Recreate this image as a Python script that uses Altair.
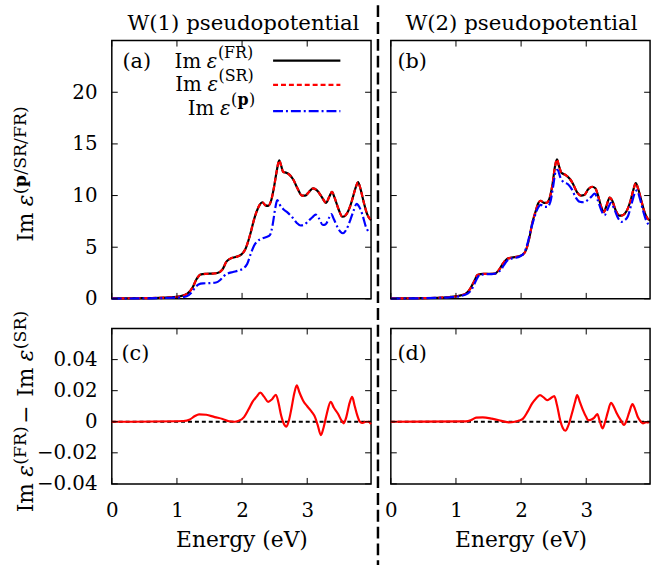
import altair as alt
import pandas as pd

# ---------------- data ----------------
# Panel (a): W(1) pseudopotential
E_A = [0.0, 0.5, 0.9, 1.05, 1.16, 1.24, 1.30, 1.36, 1.45, 1.55, 1.62, 1.70, 1.76, 1.82, 1.90,
       1.98, 2.05, 2.10, 2.14, 2.18, 2.22, 2.27, 2.31, 2.36, 2.40, 2.45, 2.49, 2.53, 2.57, 2.60,
       2.63, 2.68, 2.73, 2.79, 2.85, 2.92, 2.97, 3.02, 3.09, 3.15, 3.22, 3.29, 3.34, 3.38, 3.42,
       3.48, 3.54, 3.59, 3.65, 3.70, 3.75, 3.78, 3.82, 3.87, 3.92, 3.98]
IM_A_FR = [0.05, 0.07, 0.15, 0.25, 0.5, 1.1, 1.9, 2.35, 2.42, 2.45, 2.5, 2.85, 3.6, 3.9, 4.05,
           4.25, 4.8, 5.7, 6.6, 7.6, 8.4, 9.1, 9.35, 9.05, 9.0, 9.6, 10.8, 12.3, 13.4, 12.9,
           12.3, 12.2, 12.0, 11.5, 10.7, 10.0, 10.0, 10.3, 10.7, 10.5, 9.9, 9.3, 9.9, 10.35, 9.8,
           8.7, 7.95, 8.1, 8.8, 9.8, 10.9, 11.3, 10.6, 9.3, 8.2, 7.6]
IM_A_SR = [0.05, 0.07, 0.15, 0.25, 0.5, 1.1, 1.9, 2.35, 2.42, 2.45, 2.5, 2.85, 3.6, 3.9, 4.05,
           4.25, 4.8, 5.7, 6.6, 7.6, 8.4, 9.1, 9.35, 9.05, 9.0, 9.6, 10.8, 12.3, 13.4, 12.9,
           12.3, 12.2, 12.0, 11.5, 10.7, 10.0, 10.0, 10.3, 10.7, 10.5, 9.9, 9.3, 9.9, 10.35, 9.8,
           8.7, 7.95, 8.1, 8.8, 9.8, 10.9, 11.3, 10.6, 9.3, 8.2, 7.6]
E_A_P = [0.0, 0.5, 1.0, 1.15, 1.22, 1.28, 1.33, 1.40, 1.50, 1.60, 1.66, 1.72, 1.78, 1.86, 1.95,
         2.02, 2.08, 2.13, 2.18, 2.24, 2.31, 2.38, 2.43, 2.47, 2.51, 2.54, 2.58, 2.63, 2.70, 2.77,
         2.84, 2.90, 2.96, 3.02, 3.08, 3.13, 3.18, 3.24, 3.28, 3.34, 3.37, 3.41, 3.46, 3.51, 3.55,
         3.60, 3.66, 3.71, 3.76, 3.80, 3.85, 3.90, 3.94]
IM_A_P = [0.03, 0.05, 0.12, 0.25, 0.6, 1.1, 1.4, 1.5, 1.52, 1.58, 1.8, 2.2, 2.45, 2.6, 2.75,
          2.95, 3.4, 4.3, 5.1, 5.6, 5.85, 6.0, 6.2, 7.2, 8.8, 9.55, 9.1, 8.7, 8.35, 7.9,
          7.35, 7.1, 7.2, 7.55, 7.9, 8.15, 7.8, 7.15, 7.2, 7.9, 8.2, 7.7, 7.0, 6.5, 6.35,
          6.7, 7.6, 8.5, 9.2, 8.9, 8.1, 7.0, 6.5]

# Panel (b): W(2) pseudopotential
E_B = [0.0, 0.5, 0.9, 1.05, 1.15, 1.22, 1.28, 1.33, 1.42, 1.52, 1.60, 1.66, 1.72, 1.78, 1.86,
       1.95, 2.02, 2.08, 2.13, 2.17, 2.22, 2.26, 2.30, 2.35, 2.39, 2.44, 2.48, 2.52, 2.55, 2.58,
       2.62, 2.68, 2.75, 2.80, 2.86, 2.92, 2.97, 3.03, 3.09, 3.14, 3.19, 3.23, 3.27, 3.31, 3.36,
       3.40, 3.45, 3.51, 3.56, 3.62, 3.68, 3.73, 3.76, 3.80, 3.85, 3.90, 3.94, 3.98]
IM_B_FR = [0.05, 0.07, 0.18, 0.3, 0.5, 1.0, 1.7, 2.3, 2.42, 2.42, 2.45, 2.8, 3.4, 3.85, 4.0,
           4.1, 4.25, 4.8, 6.0, 7.3, 8.4, 9.2, 9.5, 9.3, 9.3, 9.8, 11.0, 12.8, 13.5, 12.9,
           12.2, 12.0, 11.6, 11.1, 10.3, 10.0, 10.05, 10.6, 10.85, 10.7, 9.8, 8.9, 8.4, 9.0, 9.8,
           9.5, 8.6, 8.05, 8.1, 8.5, 9.5, 10.7, 11.2, 10.6, 9.4, 8.3, 7.8, 7.6]
IM_B_SR = [0.05, 0.07, 0.18, 0.3, 0.5, 1.0, 1.7, 2.3, 2.42, 2.42, 2.45, 2.8, 3.4, 3.85, 4.0,
           4.1, 4.25, 4.8, 6.0, 7.3, 8.4, 9.2, 9.5, 9.3, 9.3, 9.8, 11.0, 12.8, 13.5, 12.9,
           12.2, 12.0, 11.6, 11.1, 10.3, 10.0, 10.05, 10.6, 10.85, 10.7, 9.8, 8.9, 8.4, 9.0, 9.8,
           9.5, 8.6, 8.05, 8.1, 8.5, 9.5, 10.7, 11.2, 10.6, 9.4, 8.3, 7.8, 7.6]
E_B_P = [0.0, 0.5, 0.9, 1.05, 1.18, 1.25, 1.31, 1.36, 1.45, 1.55, 1.63, 1.70, 1.76, 1.82, 1.90,
         1.98, 2.05, 2.10, 2.15, 2.20, 2.25, 2.30, 2.36, 2.40, 2.45, 2.49, 2.53, 2.56, 2.60, 2.65,
         2.72, 2.78, 2.84, 2.90, 2.96, 3.02, 3.08, 3.13, 3.18, 3.23, 3.28, 3.33, 3.38, 3.43, 3.49,
         3.54, 3.59, 3.64, 3.70, 3.75, 3.78, 3.82, 3.87, 3.92, 3.98]
IM_B_P = [0.03, 0.06, 0.15, 0.25, 0.5, 1.0, 1.8, 2.3, 2.38, 2.4, 2.5, 2.9, 3.5, 3.85, 3.95,
          4.1, 4.5, 5.4, 6.7, 7.8, 8.7, 9.1, 8.9, 8.9, 9.4, 10.8, 12.3, 12.5, 11.8, 11.3,
          11.1, 10.6, 9.8, 9.4, 9.35, 9.55, 9.9, 10.2, 9.5, 8.6, 8.1, 8.7, 9.3, 8.7, 7.8,
          7.45, 7.6, 8.0, 9.3, 10.3, 10.5, 9.8, 8.6, 7.6, 7.0]

# Panel (c): FR - SR difference, W(1)
E_C = [0.0, 1.10, 1.20, 1.27, 1.34, 1.45, 1.58, 1.70, 1.80, 1.88, 1.95, 2.03, 2.10, 2.16, 2.22,
       2.28, 2.34, 2.40, 2.46, 2.52, 2.56, 2.60, 2.65, 2.68, 2.72, 2.76, 2.80, 2.84, 2.88, 2.94,
       3.00, 3.07, 3.12, 3.16, 3.21, 3.25, 3.30, 3.36, 3.41, 3.47, 3.53, 3.56, 3.60, 3.65, 3.69,
       3.73, 3.77, 3.81, 3.85, 3.90, 3.94, 3.98]
DIFF_C = [0.0, 0.0005, 0.0015, 0.0035, 0.0048, 0.0045, 0.003, 0.0018, 0.0003, 0.0, 0.0006, 0.003,
          0.008, 0.0128, 0.016, 0.0187, 0.016, 0.0128, 0.0145, 0.0174, 0.012, 0.004, -0.002,
          -0.0032, 0.001, 0.009, 0.018, 0.0234, 0.019, 0.0134, 0.010, 0.0064, 0.003, -0.002,
          -0.0086, -0.004, 0.005, 0.0128, 0.009, 0.0053, 0.0005, -0.001, 0.003, 0.012, 0.0160,
          0.010, 0.004, 0.0, -0.0008, 0.0, 0.0, -0.0015]

# Panel (d): FR - SR difference, W(2)
E_D = [0.0, 1.15, 1.24, 1.31, 1.41, 1.55, 1.66, 1.75, 1.81, 1.90, 1.97, 2.03, 2.10, 2.17, 2.23,
       2.29, 2.35, 2.40, 2.45, 2.51, 2.55, 2.60, 2.64, 2.68, 2.72, 2.78, 2.83, 2.86, 2.90, 2.95,
       3.00, 3.03, 3.08, 3.12, 3.17, 3.21, 3.25, 3.29, 3.33, 3.38, 3.43, 3.47, 3.53, 3.58, 3.62,
       3.66, 3.71, 3.75, 3.79, 3.83, 3.87, 3.92, 3.96]
DIFF_D = [0.0, 0.0002, 0.0012, 0.0026, 0.0028, 0.002, 0.001, 0.0, -0.0004, 0.0, 0.0008, 0.002,
          0.0065, 0.0118, 0.015, 0.0171, 0.0155, 0.0139, 0.015, 0.0165, 0.011, 0.001, -0.004,
          -0.0058, -0.003, 0.0053, 0.013, 0.0171, 0.013, 0.0075, 0.003, 0.001, 0.0015, 0.0025,
          0.0049, 0.0, -0.0043, 0.0, 0.006, 0.0122, 0.009, 0.0053, 0.001, -0.0021, 0.001,
          0.006, 0.0113, 0.008, 0.0032, 0.0005, -0.001, -0.0003, -0.0006]

ZERO_E = [0.0, 3.98]
ZERO_V = [0.0, 0.0]

X_TICKS = [0, 1, 2, 3]
Y_TICKS_TOP = [0, 5, 10, 15, 20]
Y_TICKS_BOT = [-0.04, -0.02, 0, 0.02, 0.04]
X_DOMAIN = [0, 3.98]
Y_DOMAIN_TOP = [0, 25]
Y_DOMAIN_BOT = [-0.04, 0.06]
TITLES = ["W(1) pseudopotential", "W(2) pseudopotential"]
PANEL_LABELS = ["(a)", "(b)", "(c)", "(d)"]
X_TITLE = "Energy (eV)"

# ---------------- styling ----------------
FONT = "DejaVu Serif"
W = 262
H_TOP = 261
H_BOT = 157
TICK = 6
ANN = alt.Data(values=[{}])

CW = {'I': .47, 'm': .96, 'ε': .56, ' ': .318, '\u00a0': .318, '\u2009': .2, '(': .40,
      ')': .40, 'F': .76, 'R': .80, 'S': .72, '/': .34, 'p': .66, '−': .838}


def tw(s, size, bold=False):
    return sum(CW.get(c, .6) for c in s) * size * (1.1 if bold else 1.0)


def txt(s, x, y, size, dx=0, dy=0, angle=0, weight="normal", style="normal", align="left"):
    return alt.Chart(ANN).mark_text(
        text=s, font=FONT, fontSize=size, fontWeight=weight, fontStyle=style,
        align=align, baseline="alphabetic", angle=angle, dx=dx, dy=dy, color="black"
    ).encode(x=alt.value(x), y=alt.value(y))


def rich(pieces, x, y, start, angle=0):
    """pieces: (text, size, dy, weight, style); laid left-to-right from offset `start`."""
    out = []
    off = start
    for (s, size, dy, weight, style) in pieces:
        out.append(txt(s, x, y, size, dx=off, dy=dy, angle=angle, weight=weight, style=style))
        off += tw(s, size, weight == "bold")
    return out


def width_of(pieces):
    return sum(tw(s, size, weight == "bold") for (s, size, dy, weight, style) in pieces)


def im_eps(size):
    return [("Im\u2009", size, 0, "normal", "normal"), ("ε", size, 0, "normal", "italic")]


def sup(s, size, dy, bold=False):
    return [(s, size, dy, "bold" if bold else "normal", "normal")]


def make_panel(top, left, curves, label, label_pos, extra=()):
    h = H_TOP if top else H_BOT
    ys = alt.Scale(domain=Y_DOMAIN_TOP if top else Y_DOMAIN_BOT, nice=False, zero=False)
    xs = alt.Scale(domain=X_DOMAIN, nice=False, zero=False)
    if top:
        xaxis = None
    else:
        xaxis = alt.Axis(values=X_TICKS, format="d", title=X_TITLE, ticks=False, tickSize=0,
                         domain=False, grid=False, labelFont=FONT, labelFontSize=20,
                         labelColor="black", labelBaseline="alphabetic", labelPadding=33,
                         labelFlush=False, labelOverlap=False, titleFont=FONT,
                         titleFontSize=22, titleFontWeight="normal", titleColor="black",
                         titlePadding=9)
    if left:
        if top:
            yaxis = alt.Axis(values=Y_TICKS_TOP, title=None, ticks=False, tickSize=0,
                             domain=False, grid=False, labelFont=FONT, labelFontSize=20,
                             labelColor="black", labelPadding=15, labelFlush=False)
        else:
            yaxis = alt.Axis(values=Y_TICKS_BOT, title=None, ticks=False, tickSize=0,
                             domain=False, grid=False, labelFont=FONT, labelFontSize=20,
                             labelColor="black", labelPadding=15, labelFlush=False,
                             labelExpr="datum.value == 0 ? '0' : format(datum.value, '.2f')")
    else:
        yaxis = None
    X = lambda: alt.X("E:Q", scale=xs, axis=xaxis)
    Y = lambda: alt.Y("v:Q", scale=ys, axis=yaxis)

    layers = []
    for (E, V, color, dash, sw) in curves:
        kw = dict(color=color, strokeWidth=sw, interpolate="monotone")
        if dash:
            kw["strokeDash"] = dash
        layers.append(alt.Chart(pd.DataFrame({"E": E, "v": V})).mark_line(**kw)
                      .encode(x=X(), y=Y()))
    xt = pd.DataFrame({"E": X_TICKS})
    yt = pd.DataFrame({"v": Y_TICKS_TOP if top else Y_TICKS_BOT})
    layers.append(alt.Chart(xt).mark_rule(color="black", strokeWidth=1)
                  .encode(x=X(), y=alt.value(h), y2=alt.value(h - TICK)))
    layers.append(alt.Chart(xt).mark_rule(color="black", strokeWidth=1)
                  .encode(x=X(), y=alt.value(0), y2=alt.value(TICK)))
    layers.append(alt.Chart(yt).mark_rule(color="black", strokeWidth=1)
                  .encode(y=Y(), x=alt.value(0), x2=alt.value(TICK)))
    layers.append(alt.Chart(yt).mark_rule(color="black", strokeWidth=1)
                  .encode(y=Y(), x=alt.value(W), x2=alt.value(W - TICK)))
    layers.append(txt(label, label_pos[0], label_pos[1], 21))
    layers.extend(extra)
    return layers


# ---------------- annotations ----------------
# legend in panel (a)
LEG_XR = 145
leg_rows = [
    (im_eps(20) + sup("(FR)", 16, -10), 27.7, 20.3, "black", None),
    (im_eps(20) + sup("(SR)", 16, -10), 51.0, 44.7, "red", [5, 3]),
    (im_eps(20) + sup("(", 16, -10) + sup("p", 16, -10, True) + sup(")", 16, -10), 75.0, 71.3,
     "blue", [10, 3, 2, 3]),
]
legend_layers = []
for pcs, base, ly, col, dash in leg_rows:
    legend_layers += rich(pcs, 0, base, LEG_XR - width_of(pcs))
    kw = dict(color=col, strokeWidth=2.2)
    if dash:
        kw["strokeDash"] = dash
    legend_layers.append(alt.Chart(ANN).mark_rule(**kw).encode(
        x=alt.value(163), x2=alt.value(231), y=alt.value(ly)))

# rotated y titles
TOP_YT = im_eps(22) + sup("(", 17.5, -7) + sup("p", 17.5, -7, True) + sup("/SR/FR)", 17.5, -7)
BOT_YT = im_eps(22) + sup("(FR)", 17.5, -7) + [("\u2009−\u2009", 22, 0, "normal", "normal")] \
    + im_eps(22) + sup("(SR)", 17.5, -7)
ytitle_top = rich(TOP_YT, -80, 133, -width_of(TOP_YT) / 2, angle=270)
ytitle_bot = rich(BOT_YT, -80, 83, -width_of(BOT_YT) / 2, angle=270)

# column titles drawn as text above each top panel
title_a = txt(TITLES[0], 133, -11, 21.5, align="center")
title_b = txt(TITLES[1], 132, -11, 21.5, align="center")

# dashed separator between the two columns (drawn from the bottom-left panel, origin 112,328)
separator = alt.Chart(ANN).mark_rule(color="black", strokeWidth=2.5, strokeDash=[12, 5]).encode(
    x=alt.value(269), y=alt.value(-326.75), y2=alt.value(240))
anchor = alt.Chart(ANN).mark_rule(color="white", strokeWidth=1, opacity=0).encode(
    x=alt.value(-111.5), y=alt.value(0), y2=alt.value(10))


curves_a = [(E_A, IM_A_FR, "black", None, 2.2), (E_A, IM_A_SR, "red", [5, 3], 2.2),
            (E_A_P, IM_A_P, "blue", [10, 3, 2, 3], 2.2)]
curves_b = [(E_B, IM_B_FR, "black", None, 2.2), (E_B, IM_B_SR, "red", [5, 3], 2.2),
            (E_B_P, IM_B_P, "blue", [10, 3, 2, 3], 2.2)]
curves_c = [(ZERO_E, ZERO_V, "black", [4, 3], 2.0), (E_C, DIFF_C, "red", None, 2.2)]
curves_d = [(ZERO_E, ZERO_V, "black", [4, 3], 2.0), (E_D, DIFF_D, "red", None, 2.2)]

pa = alt.layer(*make_panel(True, True, curves_a, PANEL_LABELS[0], (10.7, 27.7),
                           legend_layers + ytitle_top + [title_a, anchor])).properties(
    width=W, height=H_TOP)
pb = alt.layer(*make_panel(True, False, curves_b, PANEL_LABELS[1], (6.7, 28),
                           [title_b])).properties(width=W, height=H_TOP)
pc = alt.layer(*make_panel(False, True, curves_c, PANEL_LABELS[2], (9.7, 32),
                           ytitle_bot + [separator])).properties(width=W, height=H_BOT)
pd_ = alt.layer(*make_panel(False, False, curves_d, PANEL_LABELS[3], (6.7, 32))).properties(
    width=W, height=H_BOT)

chart = alt.concat(pa, pb, pc, pd_, columns=2, spacing={"row": 30, "column": 20}).properties(
    bounds="flush", padding=0, background="white"
).configure_view(stroke="black", strokeWidth=1.5).configure_axis(labelColor="black")

chart.save("out.html", embed_options={"renderer": "svg", "actions": False})
